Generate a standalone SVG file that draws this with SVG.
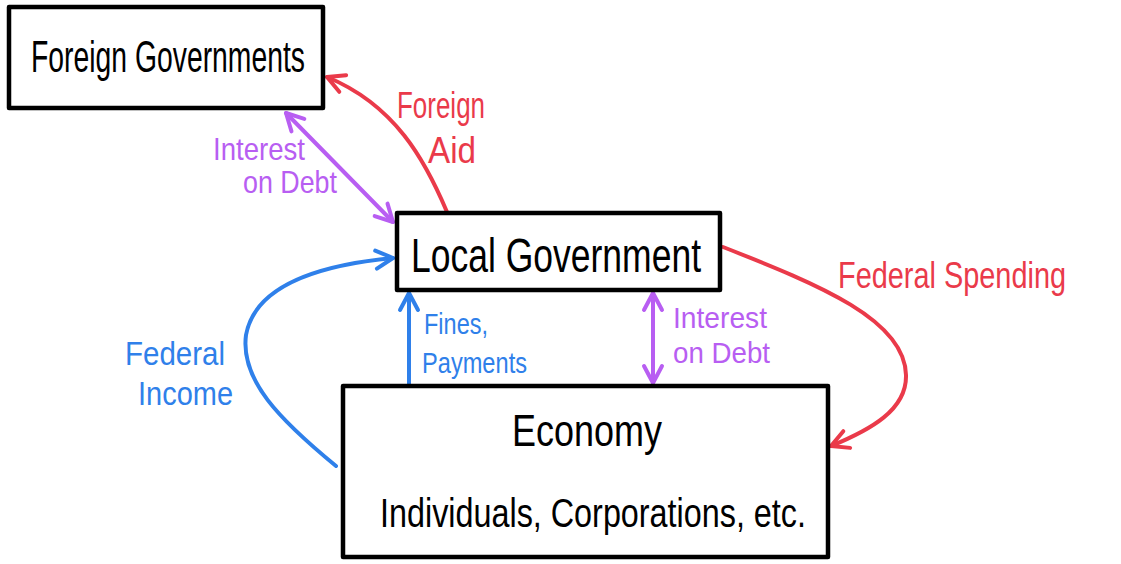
<svg xmlns="http://www.w3.org/2000/svg" width="1121" height="564" viewBox="0 0 1121 564">
<style>
.box{fill:#fff;stroke:#000;stroke-width:4.5;stroke-linejoin:round}
.t{font-family:"Liberation Sans",Arial,sans-serif;fill:#000}
.lbl{font-family:"Liberation Sans",Arial,sans-serif}
.red{stroke:#EA3A4A;fill:none;stroke-width:4;stroke-linecap:round}
.blue{stroke:#2F80EA;fill:none;stroke-width:4;stroke-linecap:round}
.purple{stroke:#B85EF2;fill:none;stroke-width:4;stroke-linecap:round}
</style>
<defs>
<marker id="aR" viewBox="0 0 24 24" refX="21" refY="12" markerWidth="24" markerHeight="24" markerUnits="userSpaceOnUse" orient="auto-start-reverse"><path d="M4,3 L21,12 L4,21" fill="none" stroke="#EA3A4A" stroke-width="4" stroke-linecap="round" stroke-linejoin="round"/></marker>
<marker id="aB" viewBox="0 0 24 24" refX="21" refY="12" markerWidth="24" markerHeight="24" markerUnits="userSpaceOnUse" orient="auto-start-reverse"><path d="M4,3 L21,12 L4,21" fill="none" stroke="#2F80EA" stroke-width="4" stroke-linecap="round" stroke-linejoin="round"/></marker>
<marker id="aP" viewBox="0 0 24 24" refX="21" refY="12" markerWidth="24" markerHeight="24" markerUnits="userSpaceOnUse" orient="auto-start-reverse"><path d="M4,3 L21,12 L4,21" fill="none" stroke="#B85EF2" stroke-width="4" stroke-linecap="round" stroke-linejoin="round"/></marker>
</defs>
<rect width="1121" height="564" fill="#fff"/>

<g id="connectors">
  <path id="foreign-aid" class="red" d="M447,212 C425,160 395,105 327,77" marker-end="url(#aR)"/>
  <path id="interest-foreign" class="purple" d="M286,113 L393,222" marker-start="url(#aP)" marker-end="url(#aP)"/>
  <path id="federal-spending" class="red" d="M723,247 C820,285 905,320 906,375 C907,410 870,430 831,446" marker-end="url(#aR)"/>
  <path id="federal-income" class="blue" d="M336,466 C280,420 240,380 246,335 C255,285 320,265 393,258" marker-end="url(#aB)"/>
  <path id="fines" class="blue" d="M409,389 L409,293" marker-end="url(#aB)"/>
  <path id="interest-local" class="purple" d="M653,293 L653,383" marker-start="url(#aP)" marker-end="url(#aP)"/>
  <g class="lbl">
    <text x="397" y="118" font-size="36" fill="#EA3A4A" textLength="88" lengthAdjust="spacingAndGlyphs">Foreign</text>
    <text x="428" y="163" font-size="36" fill="#EA3A4A" textLength="48" lengthAdjust="spacingAndGlyphs">Aid</text>
    <text x="213" y="160" font-size="32" fill="#B85EF2" textLength="92" lengthAdjust="spacingAndGlyphs">Interest</text>
    <text x="243" y="193" font-size="32" fill="#B85EF2" textLength="94" lengthAdjust="spacingAndGlyphs">on Debt</text>
    <text x="838" y="288" font-size="36" fill="#EA3A4A" textLength="228" lengthAdjust="spacingAndGlyphs">Federal Spending</text>
    <text x="424" y="334" font-size="30" fill="#2F80EA" textLength="64" lengthAdjust="spacingAndGlyphs">Fines,</text>
    <text x="422" y="373" font-size="30" fill="#2F80EA" textLength="105" lengthAdjust="spacingAndGlyphs">Payments</text>
    <text x="673" y="328" font-size="30" fill="#B85EF2" textLength="94" lengthAdjust="spacingAndGlyphs">Interest</text>
    <text x="673" y="363" font-size="30" fill="#B85EF2" textLength="97" lengthAdjust="spacingAndGlyphs">on Debt</text>
    <text x="125" y="365" font-size="34" fill="#2F80EA" textLength="100" lengthAdjust="spacingAndGlyphs">Federal</text>
    <text x="138" y="405" font-size="34" fill="#2F80EA" textLength="95" lengthAdjust="spacingAndGlyphs">Income</text>
  </g>
</g>

<g id="foreign-governments">
  <rect class="box" x="9" y="7" width="314" height="101"/>
  <text class="t" x="31" y="72" font-size="44" textLength="274" lengthAdjust="spacingAndGlyphs">Foreign Governments</text>
</g>

<g id="local-government">
  <rect class="box" x="397" y="213" width="323" height="77"/>
  <text class="t" x="411" y="272" font-size="48" textLength="290" lengthAdjust="spacingAndGlyphs">Local Government</text>
</g>

<g id="economy">
  <rect class="box" x="343" y="386" width="485" height="171"/>
  <text class="t" x="512" y="446" font-size="44" textLength="150" lengthAdjust="spacingAndGlyphs">Economy</text>
  <text class="t" x="380" y="527" font-size="40" textLength="426" lengthAdjust="spacingAndGlyphs">Individuals, Corporations, etc.</text>
</g>
</svg>
